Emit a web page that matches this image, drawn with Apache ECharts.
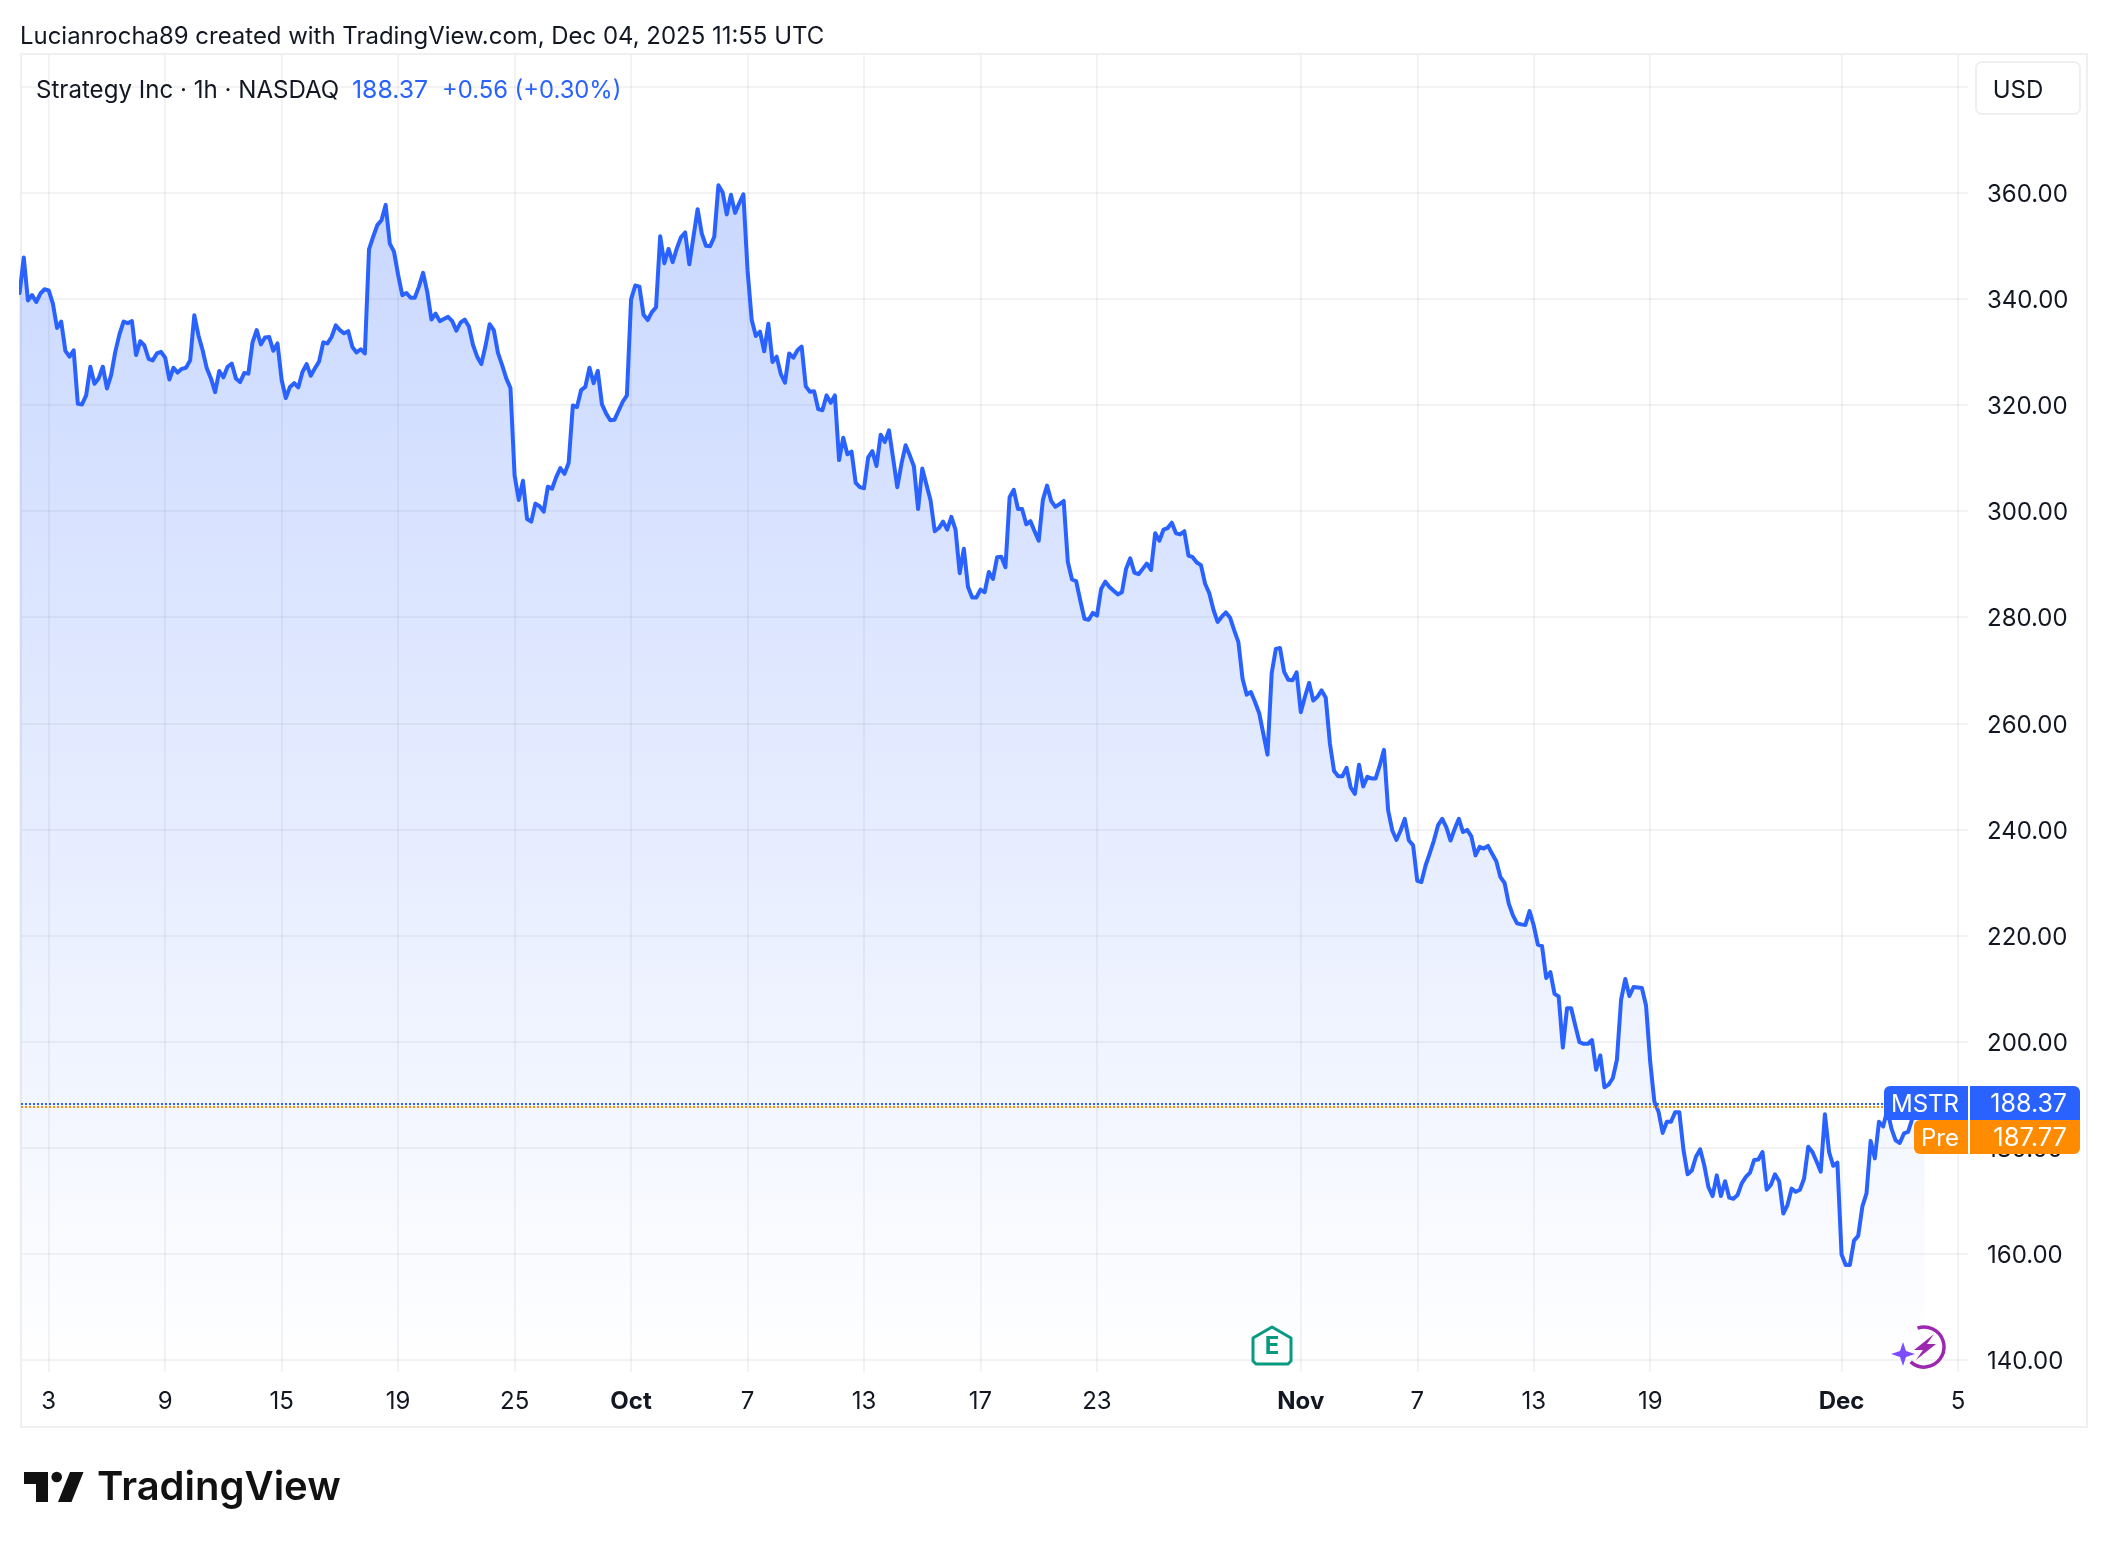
<!DOCTYPE html>
<html><head><meta charset="utf-8">
<style>html,body{margin:0;padding:0;background:#fff}#c{width:2108px;height:1548px}</style>
<script src="https://cdn.jsdelivr.net/npm/echarts@6/dist/echarts.min.js"></script>
</head><body><div id="c"></div>
<script>
// Hourly closes, one array per date-tick interval
const sepHead = [341.1,347.8,339.7,340.7,339.4,341.0,341.8];
const sep3to9 = [341.6,339.1,334.5,335.7,330.2,329.1,330.3,320.2,320.1,321.8,327.2,324.0,325.0,327.2,323.1,325.6,330.0,333.3,335.7,335.4,335.8,329.4,332.0,331.2,328.7,328.4,329.7,330.0];
const sep9to15 = [328.9,324.8,327.0,326.1,326.8,327.0,328.4,336.9,333.1,330.3,326.9,325.0,322.4,326.4,325.2,327.2,327.8,325.0,324.3,326.0,325.9,331.8,334.1,331.4,332.7,332.8,330.2,331.6];
const sep15to19 = [324.7,321.3,323.4,324.1,323.3,326.2,327.7,325.5,326.9,328.2,331.8,331.6,332.8,335.0,334.1,333.5,333.9,330.9,329.9,330.5,329.7,349.3,351.7,353.9,354.8,357.7,350.4,348.9];
const sep19to25 = [344.5,340.7,341.1,340.2,340.2,342.3,344.9,341.3,336.1,337.2,335.8,336.2,336.6,335.8,334.0,335.5,336.1,334.8,331.3,329.1,327.7,331.1,335.2,334.1,329.8,327.5,325.0,323.2];
const sep25toOct = [306.7,302.1,305.7,298.5,298.0,301.4,300.9,299.9,304.6,304.2,306.4,308.1,307.0,309.1,319.9,319.6,322.8,323.4,327.0,324.1,326.4,320.1,318.4,317.1,317.2,318.9,320.6,321.8];
const oct1to7 = [339.9,342.5,342.3,337.0,336.0,337.5,338.4,351.8,346.7,349.4,346.9,349.5,351.6,352.5,346.5,351.7,356.9,352.3,350.0,349.9,351.7,361.4,360.1,355.9,359.6,356.2,358.0,359.7];
const oct7to13 = [345.4,336.0,333.0,333.8,330.1,335.3,328.1,329.1,325.8,324.2,329.7,328.9,330.3,331.0,323.5,322.5,322.6,319.2,319.0,321.8,320.4,321.8,309.6,313.8,310.7,311.2,305.3,304.5];
const oct13to17 = [304.3,310.1,311.3,308.5,314.4,313.0,315.2,309.9,304.5,308.9,312.4,310.5,308.4,300.4,308.0,305.0,302.0,296.2,296.8,298.0,296.5,298.9,296.5,288.3,292.9,285.7,283.7,283.7];
const oct17to23 = [285.2,284.7,288.5,287.2,291.3,291.4,289.4,302.6,304.0,300.4,300.4,297.5,298.1,296.2,294.4,302.1,304.8,301.9,300.8,301.3,301.9,290.4,287.1,286.8,283.1,279.7,279.5,280.8];
const oct23toNov = [280.3,285.3,286.7,285.7,285.0,284.3,284.7,289.1,291.1,288.4,288.1,289.1,290.1,288.9,295.8,294.4,296.5,296.8,297.8,295.8,295.6,296.2,291.6,291.3,290.3,289.8,286.3,284.5,281.4,279.1,280.1,280.9,279.9,277.5,275.3,268.4,265.4,265.9,264.0,261.9,258.0,254.1,269.4,274.0,274.2,269.7,268.2,268.1,269.6];
const nov3to7 = [262.1,265.0,267.6,264.3,265.0,266.2,264.8,256.2,251.0,250.0,250.0,251.6,247.9,246.7,252.2,248.1,249.9,249.6,249.6,252.1,255.0,243.6,239.8,238.0,239.8,242.0,237.9,237.0];
const nov7to13 = [230.3,230.1,233.2,235.5,237.9,240.8,242.0,240.4,237.9,240.1,242.0,239.5,239.9,238.7,235.1,236.7,236.4,236.9,235.4,234.0,231.0,229.9,226.0,223.8,222.3,222.1,222.0,224.6];
const nov13to19 = [221.9,218.3,218.0,212.0,213.1,209.0,208.5,198.9,206.3,206.3,203.0,199.9,199.6,199.6,200.3,194.7,197.4,191.4,191.9,193.1,196.6,207.9,211.8,208.6,210.3,210.2,210.1,206.8];
const nov19toDec = [196.2,188.7,186.8,182.8,184.9,184.9,186.7,186.7,179.6,175.0,175.7,178.3,179.7,176.7,172.6,170.9,174.8,170.9,173.7,170.6,170.4,171.1,173.3,174.5,175.3,177.7,177.8,179.2,172.1,173.0,175.0,173.7,167.6,169.2,172.3,171.7,172.1,174.2,180.2,179.2,177.4,175.5,186.3,179.2,176.6,177.2];
const decOn = [159.9,157.9,157.9,162.5,163.4,168.9,171.4,181.3,178.0,184.9,184.0,187.1,183.6,181.4,180.9,182.7,183.0,185.5,187.0,188.6,188.37];

const tickBars = [7,35,63,91,119,147,175,203,231,259,308,336,364,392,438,466];
const tickLabels = ['3','9','15','19','25','Oct','7','13','17','23','Nov','7','13','19','Dec','5'];
const monthLabels = ['Oct','Nov','Dec'];
const priceGrid = [140,160,180,200,220,240,260,280,300,320,340,360,380];
const priceLabels = [140,160,180,200,220,240,260,280,300,320,340,360];
const lastPrice = 188.37;
const prePrice = 187.77;

const prices = [].concat(sepHead,sep3to9,sep9to15,sep15to19,sep19to25,sep25toOct,oct1to7,oct7to13,oct13to17,oct17to23,oct23toNov,nov3to7,nov7to13,nov13to19,nov19toDec,decOn);
const FONT = 'Inter';
const INK = '#131722', BLUE = '#2962FF', ORANGE = '#FF8C00', GRID = 'rgba(46,46,46,0.06)';

const chart = echarts.init(document.getElementById('c'), null, {renderer:'canvas', width:2108, height:1548});
const txt = (x,y,text,o={}) => ({type:'text', x, y, z:o.z||50, style:{text, fill:o.fill||INK, font:`${o.w||400} ${o.s||24}px ${o.f||FONT}`, textAlign:o.a||'left', textVerticalAlign:'middle'}});

chart.setOption({
  animation:false,
  backgroundColor:'#fff',
  grid:{left:21,right:140,top:54,bottom:176,containLabel:false},
  xAxis:{type:'value',min:0.337,max:468.4,
    axisLine:{show:false},
    axisTick:{show:false,customValues:tickBars},
    axisLabel:{customValues:tickBars,margin:18,color:INK,fontFamily:FONT,fontSize:24,hideOverlap:false,
      formatter:v=>{const l=tickLabels[tickBars.indexOf(v)];return monthLabels.includes(l)?`{b|${l}}`:l;},
      rich:{b:{fontWeight:700,fontSize:24,fontFamily:FONT,color:INK}}},
    splitLine:{show:true,lineStyle:{color:GRID,width:2}}},
  yAxis:{type:'value',position:'right',min:137.74,max:386.14,
    axisLine:{show:false},
    axisTick:{show:false,customValues:priceGrid},
    axisLabel:{customValues:priceLabels,margin:19,color:INK,fontFamily:FONT,fontSize:24,formatter:v=>`{v|${v.toFixed(2)}}`,
      rich:{v:{fontFamily:FONT,fontSize:24,color:INK,padding:[4,0,0,0]}}},
    splitLine:{show:true,lineStyle:{color:GRID,width:2}}},
  series:[{type:'line',symbol:'none',smooth:false,clip:true,
    data:prices.map((p,i)=>[i,p]),
    lineStyle:{color:BLUE,width:4,join:'round',cap:'round'},
    areaStyle:{origin:'start',opacity:1,color:new echarts.graphic.LinearGradient(0,0,0,1,[{offset:0,color:'rgba(41,98,255,0.25)'},{offset:1,color:'rgba(41,98,255,0)'}])},
    markLine:{silent:true,symbol:'none',label:{show:false},animation:false,
      data:[
        {yAxis:prePrice,lineStyle:{color:ORANGE,width:2,type:[2,2]}},
        {yAxis:lastPrice,lineStyle:{color:BLUE,width:2,type:[2,2]}}
      ]}
  }]
});

const yLast = Math.round(chart.convertToPixel({yAxisIndex:0},lastPrice));
const boxTop = yLast-17, boxH = 34;
const rect = (x,y,w,h,fill,r) => ({type:'rect',z:40,shape:{x,y,width:w,height:h,r},style:{fill}});
chart.setOption({graphic:{elements:[
  {type:'rect',z:1,silent:true,shape:{x:21,y:54,width:2066,height:1373},style:{fill:'none',stroke:'#F0F0F0',lineWidth:2}},
  txt(20,37,'Lucianrocha89 created with TradingView.com, Dec 04, 2025 11:55 UTC',{s:23.95}),
  txt(36,90.5,'Strategy Inc · 1h · NASDAQ',{s:24.1}),
  txt(352,90.5,'188.37',{fill:BLUE,s:24.8}),
  txt(442,90.5,'+0.56 (+0.30%)',{fill:BLUE,s:23.8}),
  {type:'rect',z:30,shape:{x:1976,y:62,width:104,height:52,r:6},style:{fill:'#fff',stroke:'#F0F0F0',lineWidth:2}},
  txt(2018,90.5,'USD',{a:'center',z:31}),
  rect(1884,boxTop,196,boxH,BLUE,[6,6,0,0]),
  rect(1914,boxTop+boxH,166,boxH,ORANGE,[6,0,6,6]),
  {type:'rect',z:41,shape:{x:1968,y:boxTop,width:2,height:boxH*2},style:{fill:'#fff'}},
  txt(1959,boxTop+18.5,'MSTR',{fill:'#fff',a:'right',z:42}),
  txt(2067,boxTop+18.5,'188.37',{fill:'#fff',a:'right',z:42,s:25}),
  txt(1959,boxTop+52.5,'Pre',{fill:'#fff',a:'right',z:42}),
  txt(2067,boxTop+52.5,'187.77',{fill:'#fff',a:'right',z:42,s:25.5}),
  {type:'polygon',z:30,shape:{points:[[1272,1327],[1291,1338],[1291,1361],[1288,1364],[1256,1364],[1253,1361],[1253,1338]]},style:{fill:'#fff',stroke:'#089981',lineWidth:3,lineJoin:'round'}},
  txt(1272,1347,'E',{fill:'#089981',w:700,s:24,a:'center',z:31}),
  {type:'arc',z:30,shape:{cx:1924,cy:1347,r:20,startAngle:-1.9,endAngle:2.3,clockwise:true},style:{fill:'none',stroke:'#9C27B0',lineWidth:3.5}},
  {type:'polygon',z:31,shape:{points:[[1934,1334],[1914,1350],[1923,1350],[1916,1360],[1936,1344],[1927,1344]]},style:{fill:'#9C27B0'}},
  {type:'polygon',z:32,shape:{points:[[1903,1342],[1906,1351],[1915,1354],[1906,1357],[1903,1366],[1900,1357],[1891,1354],[1900,1351]]},style:{fill:'#7C4DFF'}},
  {type:'polygon',z:30,shape:{points:[[24,1472],[48,1472],[48,1502],[36,1502],[36,1484],[24,1484]]},style:{fill:'#111'}},
  {type:'circle',z:30,shape:{cx:56.7,cy:1477,r:5.3},style:{fill:'#111'}},
  {type:'polygon',z:30,shape:{points:[[70,1472],[83.5,1472],[71.5,1502],[58,1502]]},style:{fill:'#111'}},
  txt(97,1488,'TradingView',{fill:'#111',w:600,s:40})
]}});
</script></body></html>
